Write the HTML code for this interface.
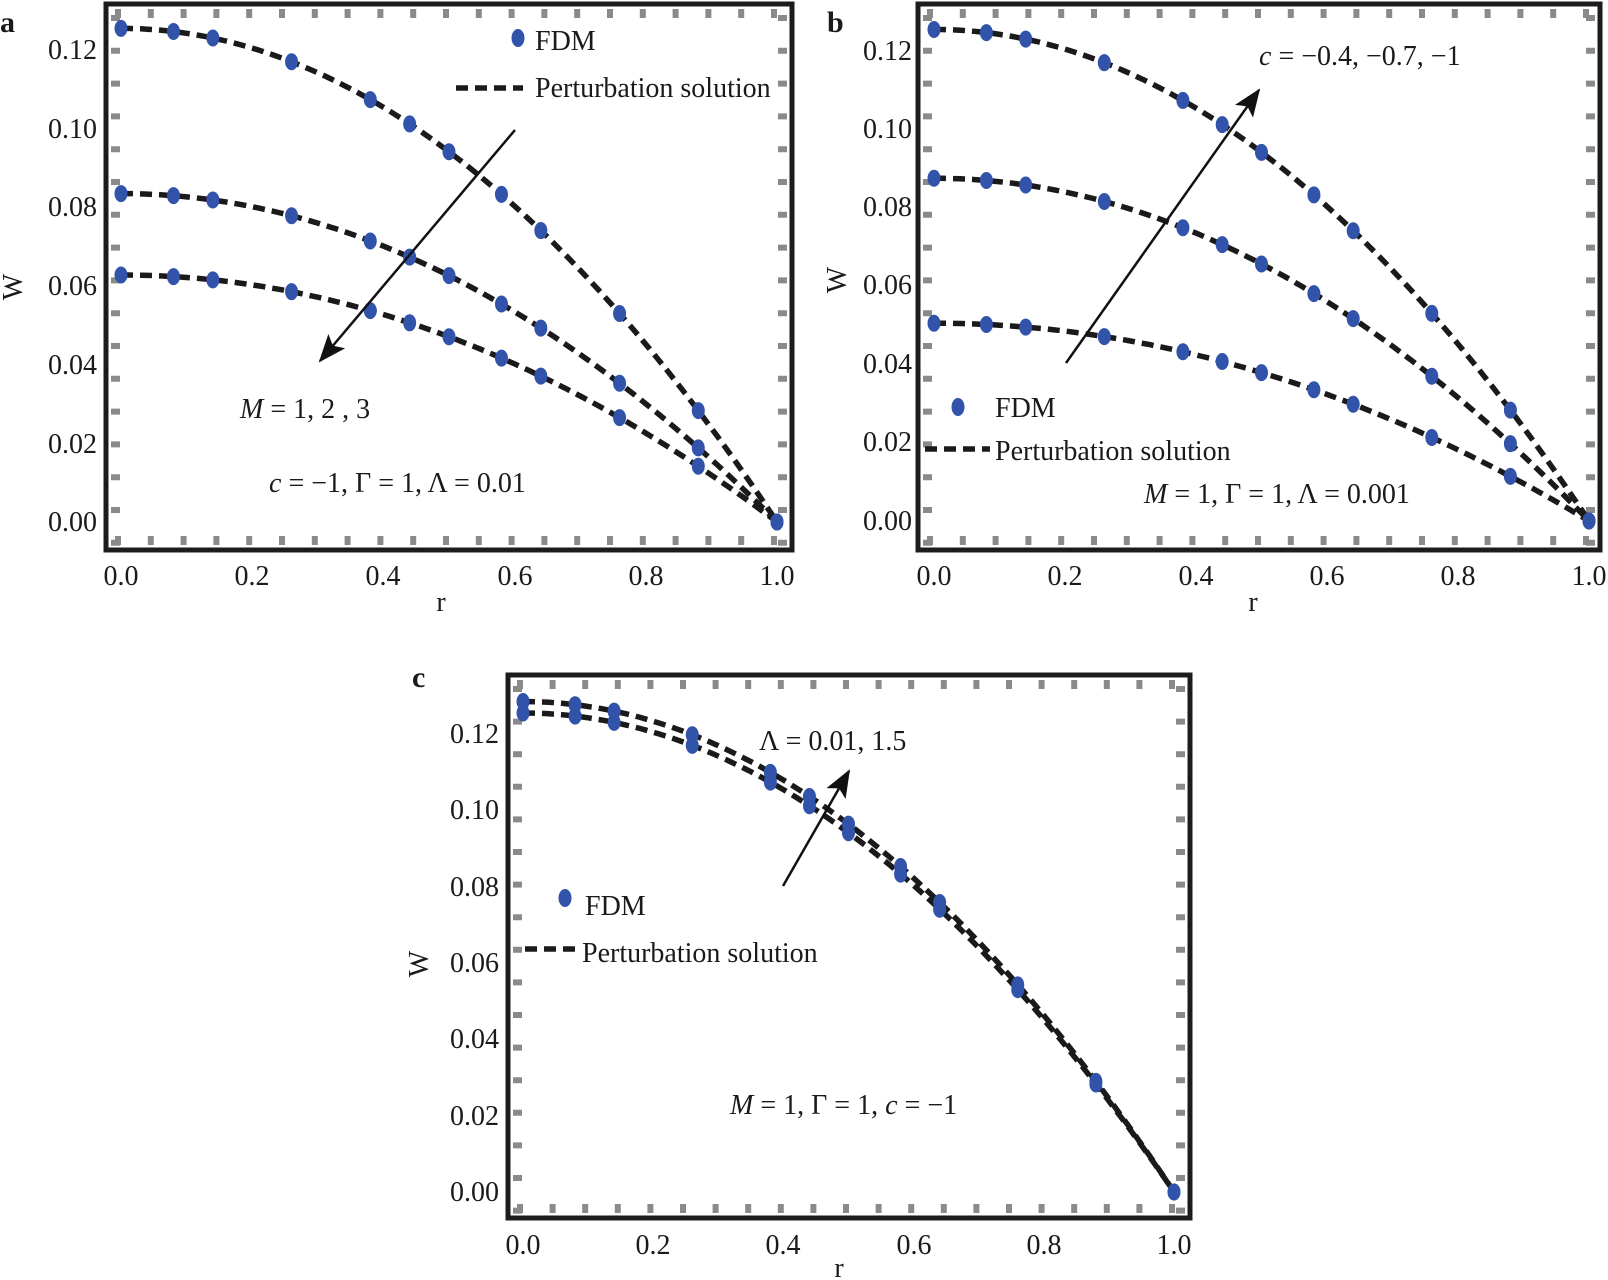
<!DOCTYPE html>
<html><head><meta charset="utf-8"><style>
html,body{margin:0;padding:0;background:#fff;}
svg{display:block;}
text{font-family:"Liberation Serif",serif;fill:#1a1a1a;}
.t{font-size:28px;}
.l{font-size:28px;}
</style></head><body>
<svg id="s" width="1608" height="1280" viewBox="0 0 1608 1280" xmlns="http://www.w3.org/2000/svg">
<defs>
<marker id="ah2" markerWidth="28" markerHeight="22" refX="26" refY="11" orient="auto" markerUnits="userSpaceOnUse"><path d="M0,0 L28,11 L0,22 L6,11 z" fill="#111"/></marker></defs>
<g id="g"></g>
<!-- panel a text -->
<text x="0" y="32" style="font-size:30px;font-weight:bold">a</text>
<text class="t" x="97" y="59" text-anchor="end">0.12</text>
<text class="t" x="97" y="138" text-anchor="end">0.10</text>
<text class="t" x="97" y="216" text-anchor="end">0.08</text>
<text class="t" x="97" y="295" text-anchor="end">0.06</text>
<text class="t" x="97" y="374" text-anchor="end">0.04</text>
<text class="t" x="97" y="453" text-anchor="end">0.02</text>
<text class="t" x="97" y="531" text-anchor="end">0.00</text>
<text class="t" x="121" y="585" text-anchor="middle">0.0</text>
<text class="t" x="252" y="585" text-anchor="middle">0.2</text>
<text class="t" x="383" y="585" text-anchor="middle">0.4</text>
<text class="t" x="515" y="585" text-anchor="middle">0.6</text>
<text class="t" x="646" y="585" text-anchor="middle">0.8</text>
<text class="t" x="777" y="585" text-anchor="middle">1.0</text>
<text class="t" x="441" y="611" text-anchor="middle">r</text>
<text class="t" transform="translate(22,287) rotate(-90)" text-anchor="middle">W</text>
<text class="l" x="535" y="50">FDM</text>
<text class="l" x="535" y="97">Perturbation solution</text>
<text class="l" x="240" y="418"><tspan font-style="italic">M</tspan> = 1, 2 , 3</text>
<text class="l" x="269" y="492"><tspan font-style="italic">c</tspan> = −1, Γ = 1, Λ = 0.01</text>
<!-- panel b -->
<text x="827" y="32" style="font-size:30px;font-weight:bold">b</text>
<text class="t" x="912" y="60" text-anchor="end">0.12</text>
<text class="t" x="912" y="138" text-anchor="end">0.10</text>
<text class="t" x="912" y="216" text-anchor="end">0.08</text>
<text class="t" x="912" y="294" text-anchor="end">0.06</text>
<text class="t" x="912" y="373" text-anchor="end">0.04</text>
<text class="t" x="912" y="451" text-anchor="end">0.02</text>
<text class="t" x="912" y="530" text-anchor="end">0.00</text>
<text class="t" x="934" y="585" text-anchor="middle">0.0</text>
<text class="t" x="1065" y="585" text-anchor="middle">0.2</text>
<text class="t" x="1196" y="585" text-anchor="middle">0.4</text>
<text class="t" x="1327" y="585" text-anchor="middle">0.6</text>
<text class="t" x="1458" y="585" text-anchor="middle">0.8</text>
<text class="t" x="1589" y="585" text-anchor="middle">1.0</text>
<text class="t" x="1253" y="611" text-anchor="middle">r</text>
<text class="t" transform="translate(846,280) rotate(-90)" text-anchor="middle">W</text>
<text class="l" x="1259" y="65"><tspan font-style="italic">c</tspan> = −0.4, −0.7, −1</text>
<text class="l" x="995" y="417">FDM</text>
<text class="l" x="995" y="460">Perturbation solution</text>
<text class="l" x="1144" y="503"><tspan font-style="italic">M</tspan> = 1, Γ = 1, Λ = 0.001</text>
<!-- panel c -->
<text x="412" y="687" style="font-size:30px;font-weight:bold">c</text>
<text class="t" x="499" y="743" text-anchor="end">0.12</text>
<text class="t" x="499" y="819" text-anchor="end">0.10</text>
<text class="t" x="499" y="896" text-anchor="end">0.08</text>
<text class="t" x="499" y="972" text-anchor="end">0.06</text>
<text class="t" x="499" y="1048" text-anchor="end">0.04</text>
<text class="t" x="499" y="1125" text-anchor="end">0.02</text>
<text class="t" x="499" y="1201" text-anchor="end">0.00</text>
<text class="t" x="523" y="1254" text-anchor="middle">0.0</text>
<text class="t" x="653" y="1254" text-anchor="middle">0.2</text>
<text class="t" x="783" y="1254" text-anchor="middle">0.4</text>
<text class="t" x="914" y="1254" text-anchor="middle">0.6</text>
<text class="t" x="1044" y="1254" text-anchor="middle">0.8</text>
<text class="t" x="1174" y="1254" text-anchor="middle">1.0</text>
<text class="t" x="839" y="1277" text-anchor="middle">r</text>
<text class="t" transform="translate(428,964) rotate(-90)" text-anchor="middle">W</text>
<text class="l" x="759" y="750">Λ = 0.01, 1.5</text>
<text class="l" x="585" y="915">FDM</text>
<text class="l" x="582" y="962">Perturbation solution</text>
<text class="l" x="730" y="1114"><tspan font-style="italic">M</tspan> = 1, Γ = 1, <tspan font-style="italic">c</tspan> = −1</text>
</svg>
<script>
var g=document.getElementById('g'),NS='http://www.w3.org/2000/svg';
function el(t,a){var e=document.createElementNS(NS,t);for(var k in a)e.setAttribute(k,a[k]);g.appendChild(e);return e;}
var rs=[0,0.08,0.14,0.26,0.38,0.44,0.5,0.58,0.64,0.76,0.88,1.0];
function panel(P){
 var fx=function(r){return P.x0+(P.x1-P.x0)*r},fy=function(w){return P.y0+(P.y12-P.y0)*w/0.12};
 var gc='#8a8a8a',st=P.step;
 var d='';
 for(var x=P.L+12;x<P.R-6;x+=st){d+='M'+x+','+(P.T+5)+'v9M'+x+','+(P.B-14)+'v9';}
 for(var y=P.T+14;y<P.B-6;y+=st){d+='M'+(P.L+5)+','+y+'h9M'+(P.R-14)+','+y+'h9';}
 el('path',{d:d,stroke:gc,'stroke-width':6,fill:'none'});
 el('rect',{x:P.L,y:P.T,width:P.R-P.L,height:P.B-P.T,fill:'none',stroke:'#1c1c1c','stroke-width':5});
 P.A.forEach(function(A){
  var p='';for(var i=0;i<=100;i++){var r=i/100;p+=(i?'L':'M')+fx(r).toFixed(1)+','+fy(A*(1-r*r)).toFixed(1);}
  el('path',{d:p,stroke:'#1a1a1a','stroke-width':5.5,fill:'none','stroke-dasharray':'12 7'});
 });
 P.A.forEach(function(A){rs.forEach(function(r){el('ellipse',{cx:fx(r),cy:fy(A*(1-r*r)),rx:6.5,ry:8.5,fill:'#3153aa'});});});
 el('ellipse',{cx:P.fm[0],cy:P.fm[1],rx:6.5,ry:9,fill:'#3153aa'});
 el('line',{x1:P.lg[0],y1:P.lg[2],x2:P.lg[1],y2:P.lg[2],stroke:'#1a1a1a','stroke-width':5.5,'stroke-dasharray':'12 7'});
 el('line',{x1:P.ar[0],y1:P.ar[1],x2:P.ar[2],y2:P.ar[3],stroke:'#111','stroke-width':2.5,'marker-end':'url(#ah2)'});
}
panel({L:106,R:792,T:4,B:550,x0:121,x1:777,y0:522,y12:50,step:32.8,A:[0.1255,0.0835,0.0628],fm:[518,38],lg:[456,523,88],ar:[515,130,320,361]});
panel({L:918,R:1600,T:4,B:550,x0:934,x1:1589,y0:521,y12:51,step:32.8,A:[0.1255,0.0875,0.0505],fm:[958,407],lg:[925,990,449],ar:[1066,363,1259,90]});
panel({L:508,R:1190,T:675,B:1218,x0:523,x1:1174,y0:1192,y12:734,step:32.6,A:[0.1255,0.1285],fm:[565,898],lg:[525,576,949],ar:[783,886,849,771]});
</script>
</body></html>
